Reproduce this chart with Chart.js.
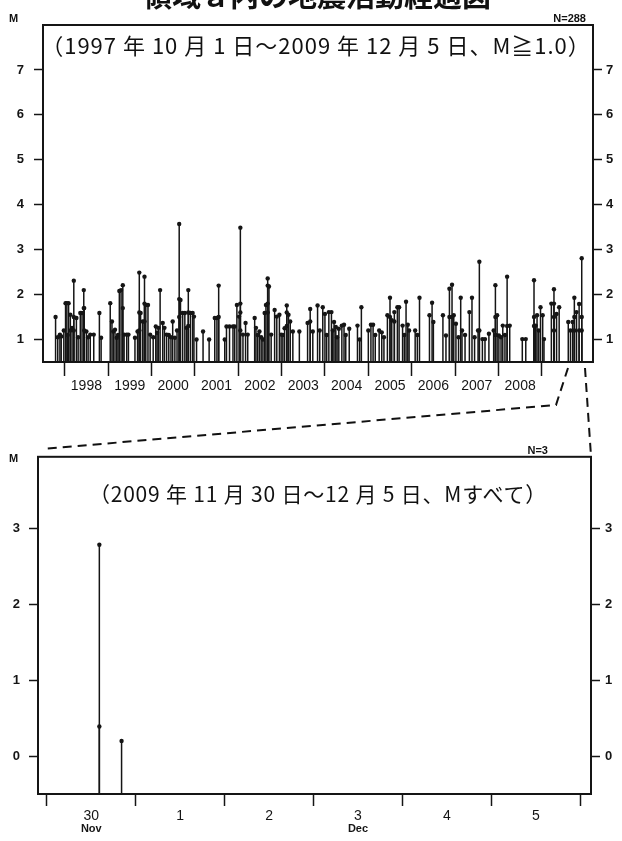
<!DOCTYPE html>
<html>
<head>
<meta charset="utf-8">
<script src="https://cdn.jsdelivr.net/npm/chart.js@4.4.0/dist/chart.umd.min.js"></script>
<style>
  body { margin: 0; background: #fff; width: 622px; height: 841px; position: relative; overflow: hidden; }
  canvas { position: absolute; left: 0; }
  #topChart { top: 0; }
  #botChart { top: 440px; }
  .txt { position: absolute; white-space: nowrap; color: #111; font-family: "Noto Sans CJK JP", sans-serif; }
  .small { font: bold 11px "Liberation Sans", sans-serif; }
  svg { position: absolute; left: 0; top: 0; pointer-events: none; }
</style>
</head>
<body>
<canvas id="topChart" width="622" height="400"></canvas>
<canvas id="botChart" width="622" height="401"></canvas>

<div class="txt" style="left:0;width:634px;text-align:center;top:-20px;font-size:29px;line-height:29px;font-weight:bold;">領域ａ内の地震活動経過図</div>
<div class="txt small" style="left:9px;top:12px;">M</div>
<div class="txt small" style="right:36px;top:12px;">N=288</div>
<div class="txt" style="left:0;width:632px;text-align:center;top:31px;font-size:22px;line-height:26px;letter-spacing:1px;">（1997 年 10 月 1 日～2009 年 12 月 5 日、M≧1.0）</div>

<div class="txt small" style="left:9px;top:452px;">M</div>
<div class="txt small" style="right:74px;top:444px;">N=3</div>
<div class="txt" style="left:0;width:636px;text-align:center;top:480px;font-size:21px;line-height:26px;letter-spacing:0.8px;">（2009 年 11 月 30 日～12 月 5 日、Mすべて）</div>

<svg width="622" height="841">
  <polyline points="568,368 556,405 42,449" fill="none" stroke="#111" stroke-width="2" stroke-dasharray="9,6"/>
  <line x1="585" y1="368" x2="591" y2="456" stroke="#111" stroke-width="2" stroke-dasharray="9,6"/>
</svg>

<script>
// 1997-10-01 ～ 2009-12-05 (M>=1.0), time as decimal year
const topTimes = [
  1997.79, 1997.89, 1997.92, 1998.02, 1998.05, 1998.09, 1998.13, 1998.17, 1998.21, 1998.27,
  1998.36, 1998.40, 1998.44, 1998.45, 1998.50, 1998.59, 1998.67, 1998.80, 1998.84, 1999.05,
  1999.09, 1999.12, 1999.16, 1999.20, 1999.26, 1999.30, 1999.34, 1999.37, 1999.43, 1999.47,
  1999.62, 1999.68, 1999.72, 1999.75, 1999.80, 1999.84, 1999.87, 1999.92, 1999.97, 2000.10,
  2000.16, 2000.20, 2000.26, 2000.30, 2000.35, 2000.49, 2000.54, 2000.64, 2000.67, 2000.72,
  2000.77, 2000.81, 2000.85, 2000.90, 2000.95, 2000.98, 2001.04, 2001.19, 2001.33, 2001.46,
  2001.51, 2001.55, 2001.69, 2001.73, 2001.80, 2001.88, 2001.92, 2001.97, 2002.02, 2002.05,
  2002.11, 2002.17, 2002.22, 2002.38, 2002.41, 2002.49, 2002.57, 2002.61, 2002.64, 2002.68,
  2002.71, 2002.76, 2002.84, 2002.89, 2002.95, 2002.99, 2003.12, 2003.16, 2003.20, 2003.26,
  2003.41, 2003.60, 2003.66, 2003.72, 2003.83, 2003.88, 2003.95, 2004.00, 2004.09, 2004.15,
  2004.21, 2004.25, 2004.32, 2004.39, 2004.44, 2004.56, 2004.75, 2004.80, 2004.84, 2005.00,
  2005.06, 2005.11, 2005.25, 2005.31, 2005.44, 2005.50, 2005.54, 2005.60, 2005.67, 2005.71,
  2005.79, 2005.87, 2005.91, 2005.94, 2006.08, 2006.18, 2006.41, 2006.47, 2006.50, 2006.72,
  2006.79, 2006.87, 2006.93, 2006.97, 2007.02, 2007.13, 2007.16, 2007.33, 2007.39, 2007.53,
  2007.56, 2007.63, 2007.69, 2007.78, 2007.89, 2007.93, 2007.97, 2008.01, 2008.10, 2008.20,
  2008.26, 2008.55, 2008.63, 2008.82, 2008.86, 2008.89, 2008.97, 2009.02, 2009.05, 2009.22,
  2009.28, 2009.34, 2009.40, 2009.61, 2009.71, 2009.75, 2009.80, 2009.86, 2009.92,
  // smaller shocks on the same stems
  1998.13, 1998.21, 1998.21, 1998.44, 1998.45, 1999.34, 1999.72, 1999.72, 1999.84, 1999.84,
  2000.64, 2000.64, 2000.85, 2000.85, 2001.55, 2002.05, 2002.05, 2002.05, 2002.68, 2002.68,
  2002.68, 2003.12, 2003.12, 2003.66, 2005.50, 2005.60, 2006.87, 2006.93, 2007.56, 2007.93,
  2007.93, 2008.20, 2008.82, 2008.82, 2009.28, 2009.28, 2009.28, 2009.75, 2009.75, 2009.86,
  2009.92, 2009.92,
  // small shocks inside the busy clusters
  1997.84, 1997.98, 1998.07, 1998.31, 1998.54, 1999.23, 2000.04, 2000.13, 2000.40, 2000.45,
  2000.59, 2002.45, 2002.53, 2003.03, 2003.07, 2004.04, 2004.18, 2004.28, 2004.48, 2005.16,
  2005.36, 2005.83, 2006.13, 2007.08, 2007.23, 2007.45, 2008.06, 2008.15, 2008.93, 2009.66
];
const topMags = [
  1.50, 1.11, 1.07, 1.81, 1.81, 1.81, 1.55, 1.26, 2.31, 1.48,
  1.59, 1.59, 2.10, 1.70, 1.18, 1.11, 1.11, 1.59, 1.04, 1.81,
  1.40, 1.18, 1.22, 1.04, 2.08, 2.10, 2.21, 1.11, 1.11, 1.11,
  1.04, 1.18, 2.49, 1.59, 1.40, 2.40, 1.77, 1.77, 1.11, 1.29,
  1.26, 2.10, 1.37, 1.26, 1.11, 1.40, 1.04, 3.57, 1.88, 1.59,
  1.59, 1.26, 2.10, 1.59, 1.59, 1.51, 1.00, 1.18, 1.00, 1.48,
  1.48, 2.20, 1.00, 1.29, 1.29, 1.29, 1.29, 1.77, 1.51, 3.49,
  1.11, 1.37, 1.11, 1.48, 1.26, 1.18, 1.00, 1.59, 1.77, 2.36,
  2.18, 1.11, 1.66, 1.51, 1.55, 1.11, 1.76, 1.55, 1.40, 1.18,
  1.18, 1.37, 1.68, 1.18, 1.76, 1.20, 1.72, 1.57, 1.61, 1.61,
  1.39, 1.28, 1.24, 1.31, 1.33, 1.24, 1.31, 1.00, 1.72, 1.20,
  1.33, 1.33, 1.20, 1.16, 1.54, 1.93, 1.43, 1.61, 1.72, 1.72,
  1.31, 1.84, 1.33, 1.20, 1.20, 1.93, 1.54, 1.82, 1.39, 1.54,
  1.09, 2.13, 2.22, 1.54, 1.35, 1.93, 1.20, 1.61, 1.93, 1.20,
  2.73, 1.01, 1.01, 1.13, 1.20, 2.21, 1.54, 1.09, 1.31, 2.40,
  1.31, 1.01, 1.01, 2.32, 1.31, 1.54, 1.72, 1.54, 1.01, 1.80,
  2.12, 1.57, 1.72, 1.39, 1.39, 1.93, 1.61, 1.79, 2.81,
  1.20, 1.50, 1.20, 1.70, 1.20, 1.70, 1.60, 1.20, 1.80, 1.40,
  1.90, 1.50, 1.60, 1.30, 1.50, 1.80, 1.60, 1.20, 2.20, 1.80,
  1.60, 1.60, 1.30, 1.40, 1.50, 1.40, 1.50, 1.50, 1.20, 1.50,
  1.10, 1.30, 1.50, 1.30, 1.80, 1.50, 1.20, 1.50, 1.20, 1.20,
  1.50, 1.20,
  1.05, 1.20, 1.10, 1.05, 1.05, 1.10, 1.05, 1.15, 1.10, 1.05,
  1.20, 1.10, 1.05, 1.10, 1.25, 1.10, 1.20, 1.05, 1.10, 1.10,
  1.05, 1.10, 1.10, 1.05, 1.10, 1.05, 1.05, 1.10, 1.20, 1.20
];
const yearTicks = [1998, 1999, 2000, 2001, 2002, 2003, 2004, 2005, 2006, 2007, 2008, 2009];
const yearLabels = ['1998', '1999', '2000', '2001', '2002', '2003', '2004', '2005', '2006', '2007', '2008', ''];
const topMagTicks = [1, 2, 3, 4, 5, 6, 7];

// 2009-11-30 ～ 12-05 (all M), time as days after Nov 30 00:00
const botDays = [0.59, 0.59, 0.84];
const botMags = [2.79, 0.39, 0.20];
const dayTicks = [0, 1, 2, 3, 4, 5, 6];
const dayLabels = ['30', '1', '2', '3', '4', '5', ''];
const monthLabels = ['Nov', '', '', 'Dec', '', '', ''];
const botMagTicks = [0, 1, 2, 3];

const ink = '#151515';

// vertical line from the axis up to each event
const stems = {
  id: 'stems',
  beforeDatasetsDraw(chart) {
    const {ctx, chartArea} = chart;
    ctx.save();
    ctx.beginPath();
    ctx.rect(chartArea.left, chartArea.top, chartArea.width, chartArea.height);
    ctx.clip();
    ctx.strokeStyle = ink;
    ctx.lineWidth = 1.5;
    chart.getDatasetMeta(0).data.forEach(p => {
      ctx.beginPath();
      ctx.moveTo(p.x, chartArea.bottom);
      ctx.lineTo(p.x, p.y);
      ctx.stroke();
    });
    ctx.restore();
  }
};

const frame = {
  id: 'frame',
  afterDraw(chart) {
    const {ctx, chartArea} = chart;
    ctx.save();
    ctx.strokeStyle = ink;
    ctx.lineWidth = 2;
    ctx.strokeRect(chartArea.left, chartArea.top, chartArea.width, chartArea.height);
    ctx.restore();
  }
};

function magAxis(pos, ticks, min, max, width, pad) {
  return {
    type: 'linear', position: pos, min: min, max: max,
    afterBuildTicks: s => { s.ticks = ticks.map(v => ({value: v})); },
    afterFit: s => { s.width = width; },
    grid: {drawOnChartArea: false, tickLength: 9, tickWidth: 1.5, tickColor: ink},
    border: {display: false},
    ticks: {color: ink, padding: pad, font: {family: 'Liberation Sans', size: 13, weight: 'bold'}}
  };
}

function timeAxis(ticks, labels, min, max, height, offset, tickLen, opts) {
  return Object.assign({
    type: 'linear', position: 'bottom', min: min, max: max,
    afterBuildTicks: s => { s.ticks = ticks.map(v => ({value: v})); },
    afterFit: s => { s.height = height; },
    grid: {drawOnChartArea: false, tickLength: tickLen, tickWidth: 1.5, tickColor: ink},
    border: {display: false},
    ticks: {
      autoSkip: false, maxRotation: 0, labelOffset: offset, padding: 2, color: ink,
      font: {family: 'Liberation Sans', size: 14},
      callback: (v, i) => labels[i]
    }
  }, opts || {});
}

const common = {
  responsive: false,
  animation: false,
  plugins: {legend: {display: false}, tooltip: {enabled: false}},
  elements: {point: {radius: 2.2, backgroundColor: ink, borderWidth: 0}}
};

new Chart(document.getElementById('topChart'), {
  type: 'scatter',
  data: {datasets: [{data: topTimes.map((t, i) => ({x: t, y: topMags[i]})), pointBackgroundColor: ink}]},
  options: Object.assign({}, common, {
    layout: {padding: {top: 25, left: 0, right: 0, bottom: 0}},
    scales: {
      x: timeAxis(yearTicks, yearLabels, 1997.5, 2010.18, 38, 21.7, 14),
      y: magAxis('left', topMagTicks, 0.5, 8.0, 43, 10),
      y2: magAxis('right', topMagTicks, 0.5, 8.0, 29, 4)
    }
  }),
  plugins: [stems, frame]
});

new Chart(document.getElementById('botChart'), {
  type: 'scatter',
  data: {datasets: [{data: botDays.map((d, i) => ({x: d, y: botMags[i]})), pointBackgroundColor: ink}]},
  options: Object.assign({}, common, {
    layout: {padding: {top: 16, left: 0, right: 0, bottom: 5}},
    scales: {
      x: timeAxis(dayTicks, dayLabels, -0.1, 6.12, 28, 44.4, 12, {weight: 0}),
      xm: timeAxis(dayTicks, monthLabels, -0.1, 6.12, 14, 44.4, 0, {
        weight: 1,
        grid: {display: false, drawTicks: false, tickLength: 0},
        ticks: {autoSkip: false, maxRotation: 0, labelOffset: 44.4, padding: 0, color: ink,
          font: {family: 'Liberation Sans', size: 11, weight: 'bold'},
          callback: (v, i) => monthLabels[i]}
      }),
      y: magAxis('left', botMagTicks, -0.5, 3.95, 38, 9),
      y2: magAxis('right', botMagTicks, -0.5, 3.95, 31, 5)
    }
  }),
  plugins: [stems, frame]
});
</script>
</body>
</html>
